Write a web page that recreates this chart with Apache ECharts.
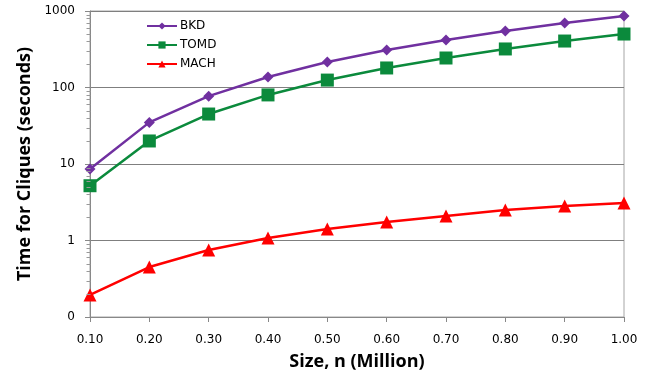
<!DOCTYPE html>
<html><head><meta charset="utf-8">
<script src="https://cdn.jsdelivr.net/npm/echarts@6/dist/echarts.min.js"></script>
<style>html,body{margin:0;padding:0;background:#fff}#c{width:646px;height:375px}</style>
</head><body><div id="c"></div>
<script>
const categories = ['0.10','0.20','0.30','0.40','0.50','0.60','0.70','0.80','0.90','1.00'];
const bkd  = [8.6, 35, 77, 137, 215, 309, 418, 548, 697, 861];
const tomd = [5.2, 20, 45, 80, 125, 180, 243, 319, 405, 500];
const mach = [0.194, 0.45, 0.75, 1.08, 1.41, 1.75, 2.09, 2.5, 2.83, 3.09];
const seriesNames = ['BKD','TOMD','MACH'];
const decades = [0.1, 1, 10, 100];

const chart = echarts.init(document.getElementById('c'), null, {renderer:'canvas'});
chart.setOption({
  animation:false,
  backgroundColor:'#fff',
  grid:{left:90,right:22,top:11,bottom:58,containLabel:false,outerBoundsMode:'none',
        show:true,borderColor:'#a6a6a6',borderWidth:1},
  legend:{
    left:141, top:15, orient:'vertical', itemGap:7, itemWidth:30, itemHeight:9,
    textStyle:{fontFamily:'DejaVu Sans',fontSize:12,color:'#000',padding:[0,0,0,-2]},
    data:seriesNames
  },
  xAxis:{
    type:'category', data:categories, boundaryGap:false,
    axisLine:{lineStyle:{color:'#888',width:1}},
    axisTick:{show:true,length:5,lineStyle:{color:'#888'}},
    axisLabel:{fontFamily:'DejaVu Sans',fontSize:12,color:'#000',margin:17},
    name:'Size, n (Million)', nameLocation:'middle', nameGap:36,
    nameTextStyle:{fontFamily:'Open Sans',fontWeight:'bold',fontSize:18,color:'#000'}
  },
  yAxis:{
    type:'log', logBase:10, min:0.1, max:1000,
    axisLine:{show:true,lineStyle:{color:'#888',width:1}},
    axisTick:{show:true,length:5,lineStyle:{color:'#888'}},
    splitLine:{show:true,lineStyle:{color:'#7f7f7f',width:1}},
    axisLabel:{fontFamily:'DejaVu Sans',fontSize:12,color:'#000',margin:15,
      formatter:function(v){return v<1?'0':String(Math.round(v));}},
    name:'Time for Cliques (seconds)', nameLocation:'middle', nameGap:56,
    nameTextStyle:{fontFamily:'Open Sans',fontWeight:'bold',fontSize:18,color:'#000'}
  },
  series:[
    {name:'BKD',type:'line',data:bkd,symbol:'diamond',symbolSize:11,
     itemStyle:{color:'#7030A0'},lineStyle:{color:'#7030A0',width:2.5}},
    {name:'TOMD',type:'line',data:tomd,symbol:'rect',symbolSize:13,
     itemStyle:{color:'#0B8A3C'},lineStyle:{color:'#0B8A3C',width:2.5}},
    {name:'MACH',type:'line',data:mach,symbol:'triangle',symbolSize:13,
     itemStyle:{color:'#FF0000'},lineStyle:{color:'#FF0000',width:2.5}}
  ]
});
// minor ticks on the log axis, placed through the axis scale
const x0 = Math.round(chart.convertToPixel({xAxisIndex:0}, 0)) + 0.5;
const minor = [];
decades.forEach(function(d){
  for (let k = 2; k <= 9; k++) {
    const y = Math.round(chart.convertToPixel({yAxisIndex:0}, d*k)) + 0.5;
    minor.push({type:'line', shape:{x1:x0-4, y1:y, x2:x0, y2:y},
      style:{stroke:'#999', lineWidth:1}, silent:true, z:5});
  }
});
chart.setOption({graphic:{elements:minor}});
</script></body></html>
